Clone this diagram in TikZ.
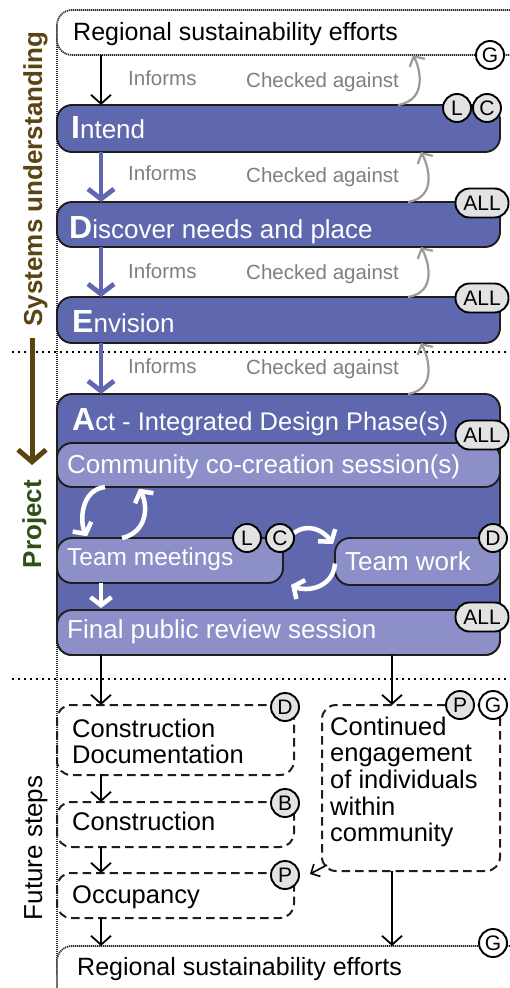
\documentclass[tikz,border=0pt]{standalone}
\usepackage{fontspec}
\setmainfont{Liberation Sans}
\usetikzlibrary{arrows.meta,calc}
\definecolor{boxblue}{HTML}{5F68AF}
\definecolor{boxlight}{HTML}{8C8FC8}
\definecolor{badgegray}{HTML}{E2E2E2}
\definecolor{txtgray}{HTML}{7F7F7F}
\definecolor{arcgray}{HTML}{9A9A9A}
\definecolor{brownc}{HTML}{5B4412}
\definecolor{greenc}{HTML}{2E5016}
\definecolor{edgec}{HTML}{1E1E1E}
\definecolor{dotc}{HTML}{2A2A2A}
\newcommand\myMain{\fontsize{26}{31}\selectfont}
\newcommand\myReg{\fontsize{25}{29}\selectfont}
\newcommand\myLab{\fontsize{20.5}{24}\selectfont}
\newcommand\myBadge{\fontsize{21}{24}\selectfont}
\newcommand\myBig{\fontsize{32}{38}\selectfont\bfseries}
\newcommand\myFut{\fontsize{25.5}{26.7}\selectfont}
\newcommand\myBold{\fontsize{26}{31}\selectfont\bfseries}
\newcommand\capL[1]{{\myBig #1}}
\tikzset{
  vline/.style={draw=dotc, line width=1.4, dash pattern=on 1.2pt off 0.8pt},
  sepline/.style={draw=black, line width=1.8, dash pattern=on 1.8pt off 4.2pt},
  regbox/.style={draw=dotc, line width=1.7, dash pattern=on 1.2pt off 0.8pt, fill=white,
    rounded corners=15, minimum width=480, minimum height=45, anchor=north west, inner sep=0, outer sep=0},
  stagebox/.style={draw=edgec, line width=1.9, fill=boxblue, rounded corners=15,
    minimum width=443, anchor=north west, inner sep=0, outer sep=0},
  subbox/.style={draw=edgec, line width=1.9, fill=boxlight, rounded corners=15,
    anchor=north west, inner sep=0, outer sep=0},
  futbox/.style={draw=edgec, line width=2, dash pattern=on 8.5pt off 5pt, rounded corners=14,
    anchor=north west, inner sep=0, outer sep=0},
  cbadge/.style={circle, draw=black, line width=1.9, fill=badgegray, minimum size=28,
    inner sep=0, font=\myBadge},
  gbadge/.style={cbadge, fill=white},
  abadge/.style={draw=black, line width=1.9, fill=badgegray, rounded corners=14,
    minimum width=53, minimum height=29, inner sep=0, font=\myBadge},
  wtxt/.style={anchor=base west, inner sep=0, text=white, font=\myMain},
  ktxt/.style={anchor=base west, inner sep=0, text=black, font=\myFut},
  gtxt/.style={anchor=base west, inner sep=0, text=txtgray, font=\myLab},
  blkarr/.style={draw=black, line width=1.8, -{Straight Barb[length=9pt,width=20pt]}},
  bluearr/.style={draw=boxblue, line width=4.8, -{Straight Barb[length=10pt,width=26pt]}},
  grayarr/.style={draw=arcgray, line width=2.2, -{Straight Barb[length=7.5pt,width=17pt]}},
  whitearr/.style={draw=white, line width=4.5, -{Straight Barb[length=8pt,width=21pt]}},
  brownarr/.style={draw=brownc, line width=5, -{Straight Barb[length=12pt,width=28pt]}},
}
\begin{document}
\begin{tikzpicture}[x=1pt,y=-1pt]
\useasboundingbox (0,0) rectangle (510,988);
\clip (0,0) rectangle (510,988);
\fill[white] (0,0) rectangle (510,988);

% helper coordinates (x positions of connectors)
\coordinate (ax) at (101,0);
\coordinate (bx) at (392,0);
\coordinate (gsa) at (398,0);
\coordinate (gea) at (413,0);
\coordinate (gsb) at (408,0);
\coordinate (geb) at (421,0);
\coordinate (wa) at (105,0);
\coordinate (wb) at (88,0);
\coordinate (wc) at (122,0);
\coordinate (wd) at (138,0);

% left guide line and separators
\coordinate (vtop) at (57,25);
\coordinate (vbot) at (57,975);
\draw[vline] (vtop) -- (vbot);
\coordinate (dal) at (12,352); \coordinate (dar) at (510,352);
\coordinate (dbl) at (12,679); \coordinate (dbr) at (510,679);
\draw[sepline] (dal) -- (dar);
\draw[sepline] (dbl) -- (dbr);

% regional boxes
\node[regbox] (reg1) at (57,10) {};
\node[regbox, minimum height=80] (reg2) at (57,946) {};

% stage boxes
\node[stagebox, minimum height=47] (intend) at (57,105) {};
\node[stagebox, minimum height=45] (discover) at (57,202) {};
\node[stagebox, minimum height=46] (envision) at (57,297) {};
\node[stagebox, minimum height=261] (act) at (57,394) {};
\node[subbox, minimum width=443, minimum height=44] (comm) at (57,443) {};
\node[subbox, minimum width=226, minimum height=45] (tmeet) at (57,538) {};
\node[subbox, minimum width=165, minimum height=47] (twork) at (335,538) {};
\node[subbox, minimum width=443, minimum height=45] (final) at (57,610) {};

% future boxes
\node[futbox, minimum width=237, minimum height=70] (cdoc) at (57,705) {};
\node[futbox, minimum width=237, minimum height=45] (constr) at (57,802) {};
\node[futbox, minimum width=237, minimum height=45] (occ) at (57,873) {};
\node[futbox, minimum width=178, minimum height=166] (cont) at (322,705) {};

% texts
\node[anchor=base west, inner sep=0, font=\myReg] (reg1t) at (73,40) {Regional sustainability efforts};
\node[anchor=base west, inner sep=0, font=\myReg] (reg2t) at (77,975) {Regional sustainability efforts};
\node[wtxt] (intendt) at (71,138) {\capL{I}ntend};
\node[wtxt] (discovert) at (69,238) {\capL{D}iscover needs and place};
\node[wtxt] (envisiont) at (72,332) {\capL{E}nvision};
\node[wtxt, font=\fontsize{25.5}{30}\selectfont] (actt) at (72,430) {\capL{A}ct - Integrated Design Phase(s)};
\node[wtxt] (commt) at (67,473) {Community co-creation session(s)};
\node[wtxt, font=\fontsize{24.5}{30}\selectfont] (tmeett) at (67,565) {Team meetings};
\node[wtxt] (tworkt) at (345,570) {Team work};
\node[wtxt] (finalt) at (67,638) {Final public review session};
\node[ktxt] (cdoct) at (72,737) {\vtop{\hbox{Construction}\hbox{Documentation}}};
\node[ktxt] (constrt) at (72,830) {Construction};
\node[ktxt] (occt) at (72,903) {Occupancy};
\node[ktxt] (contt) at (330,735) {\vtop{\hbox{Continued}\hbox{engagement}\hbox{of individuals}\hbox{within}\hbox{community}}};

% gap labels
\node[gtxt] (infa) at (128,85) {Informs};
\node[gtxt] (chka) at (246,87) {Checked against};
\node[gtxt] (infb) at (128,180) {Informs};
\node[gtxt] (chkb) at (246,182) {Checked against};
\node[gtxt] (infc) at (128,278) {Informs};
\node[gtxt] (chkc) at (246,279) {Checked against};
\node[gtxt] (infd) at (128,373) {Informs};
\node[gtxt] (chkd) at (246,374) {Checked against};

% side labels
\node[rotate=90, anchor=base, inner sep=0, text=brownc, font=\myBold] (sysl) at (42,179) {Systems understanding};
\node[rotate=90, anchor=base, inner sep=0, text=greenc, font=\myBold] (projl) at (41,524) {Project};
\node[rotate=90, anchor=base, inner sep=0, text=black, font=\myMain] (futl) at (42,848) {Future steps};
\coordinate (baa) at (32,338);
\coordinate (bab) at (32,465);
\draw[brownarr] (baa) -- (bab);

% inform arrows
\draw[blkarr] (reg1.south -| ax) -- (intend.north -| ax);
\draw[bluearr] (intend.south -| ax) -- (discover.north -| ax);
\draw[bluearr] (discover.south -| ax) -- (envision.north -| ax);
\draw[bluearr] (envision.south -| ax) -- (act.north -| ax);

% checked-against arrows
\draw[grayarr] (intend.north -| gsa) .. controls ($(intend.north -| gsa)+(30,-5)$) and ($(reg1.south -| gea)+(7,13)$) .. (reg1.south -| gea);
\draw[grayarr] (discover.north -| gsb) .. controls ($(discover.north -| gsb)+(30,-5)$) and ($(intend.south -| geb)+(7,13)$) .. (intend.south -| geb);
\draw[grayarr] (envision.north -| gsb) .. controls ($(envision.north -| gsb)+(30,-5)$) and ($(discover.south -| geb)+(7,13)$) .. (discover.south -| geb);
\draw[grayarr] (act.north -| gsb) .. controls ($(act.north -| gsb)+(30,-5)$) and ($(envision.south -| geb)+(7,13)$) .. (envision.south -| geb);

% badges
\node[gbadge] (bg1) at (490,55) {G};
\node[cbadge] (bil) at (457,108) {L};
\node[cbadge] (bic) at (487,108) {C};
\node[abadge] (bdall) at (482,203) {ALL};
\node[abadge] (beall) at (482,298) {ALL};
\node[abadge] (baall) at (482,435) {ALL};
\node[cbadge] (btl) at (247,538) {L};
\node[cbadge] (btc) at (280,538) {C};
\node[cbadge] (btd) at (493,538) {D};
\node[abadge] (bfall) at (482,617) {ALL};
\node[cbadge] (bcd) at (285,707) {D};
\node[cbadge] (bcb) at (285,803) {B};
\node[cbadge] (bop) at (285,875) {P};
\node[cbadge] (bcp) at (460,705) {P};
\node[gbadge] (bcg) at (493,705) {G};
\node[gbadge] (bg2) at (493,943) {G};

% white arrows inside Act
\draw[whitearr, shorten >=2pt] (comm.south -| wa) .. controls ($(comm.south -| wa)+(-25,3)$) and ($(tmeet.north -| wb)+(-8,-15)$) .. (tmeet.north -| wb);
\draw[whitearr, shorten >=2pt] (tmeet.north -| wc) .. controls ($(tmeet.north -| wc)+(26,-6)$) and ($(comm.south -| wd)+(10,18)$) .. (comm.south -| wd);
\draw[whitearr] (btc.20) .. controls ($(btc.20)+(14,-10)$) and ($(twork.north west)+(-12,-8)$) .. ($(twork.north west)+(-2,6)$);
\draw[whitearr] ($(twork.west)+(0,2)$) .. controls ($(twork.west)+(-2,27)$) and ($(tmeet.south east)+(23,9)$) .. ($(tmeet.south east)+(8,2)$);
\draw[whitearr, shorten >=2pt] (tmeet.south -| ax) -- (final.north -| ax);

% future arrows
\draw[blkarr] (final.south -| ax) -- (cdoc.north -| ax);
\draw[blkarr] (final.south -| bx) -- (cont.north -| bx);
\draw[blkarr] (cdoc.south -| ax) -- (constr.north -| ax);
\draw[blkarr] (constr.south -| ax) -- (occ.north -| ax);
\draw[blkarr] (occ.south -| ax) -- (reg2.north -| ax);
\draw[blkarr] (cont.south -| bx) -- (reg2.north -| bx);
\draw[draw=black, line width=1.6, -{Straight Barb[length=7pt,width=14pt]}] ($(cont.south west)+(5,-6)$) -- ($(bop.east)+(10,-1)$);
\end{tikzpicture}
\end{document}
